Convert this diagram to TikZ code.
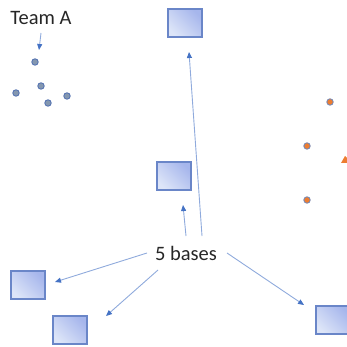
\documentclass[tikz,border=0pt]{standalone}
\usepackage{fontspec}
\setmainfont{Carlito}
\usetikzlibrary{arrows.meta}
\definecolor{baseedge}{HTML}{6A86C8}
\definecolor{baselight}{HTML}{DDE5F8}
\definecolor{basedark}{HTML}{A6B6EC}
\definecolor{linkline}{HTML}{8FAADC}
\definecolor{linktip}{HTML}{4472C4}
\definecolor{playerfill}{HTML}{8497B0}
\definecolor{playeredge}{HTML}{4F6FB0}
\definecolor{rivalfill}{HTML}{ED7D31}
\definecolor{rivaledge}{HTML}{6F87B8}
\tikzset{
  basebox/.style={draw=baseedge, line width=1.4pt, minimum width=34pt, minimum height=28pt,
    inner sep=0pt, left color=baselight, right color=basedark, shading angle=135},
  link/.style={draw=linkline, line width=0.9pt,
    -{Triangle[length=6pt,width=5pt,color=linktip]}},
  player/.style={circle, draw=playeredge, fill=playerfill, line width=0.8pt,
    minimum size=6.5pt, inner sep=0pt},
  rival/.style={circle, draw=rivaledge, fill=rivalfill, line width=0.8pt,
    minimum size=6.5pt, inner sep=0pt},
  label/.style={font=\fontsize{20.5}{24}\selectfont, inner sep=0pt, text=black!85}
}
\begin{document}
\begin{tikzpicture}[x=1pt, y=-1pt]
\useasboundingbox (0,0) rectangle (347,347);
\clip (0,0) rectangle (347,347);

% labels
\node[label] (team) at (41,18) {Team A};
\node[label] (bases) at (186,253) {5 bases};

% team A players
\node[player] (p1) at (35,62) {};
\node[player] (p2) at (16,93) {};
\node[player] (p3) at (41,86) {};
\node[player] (p4) at (48,103) {};
\node[player] (p5) at (67,96) {};

% opposing players
\node[rival] (r1) at (330,102) {};
\node[rival] (r2) at (307,146) {};
\node[rival] (r3) at (307,200) {};
\fill[rivalfill] (345,156) -- (341,163) -- (352,163) -- cycle;

% bases
\node[basebox] (b1) at (185,23) {};
\node[basebox] (b2) at (174,176) {};
\node[basebox] (b3) at (28,285) {};
\node[basebox] (b4) at (70,330) {};
\node[basebox] (b5) at (333,320) {};

% connector ends
\coordinate (tA) at (41,33);
\coordinate (tAend) at (39,50);
\coordinate (s1) at (202,236);
\coordinate (e1) at (189,52);
\coordinate (s2) at (186,236);
\coordinate (e2) at (183,205);
\coordinate (s3) at (147,253);
\coordinate (e3) at (55,282);
\coordinate (s4) at (158,270);
\coordinate (e4) at (106,316);
\coordinate (s5) at (227,253);
\coordinate (e5) at (304,305);

\draw[link] (tA) -- (tAend);
\draw[link] (s1) -- (e1);
\draw[link] (s2) -- (e2);
\draw[link] (s3) -- (e3);
\draw[link] (s4) -- (e4);
\draw[link] (s5) -- (e5);
\end{tikzpicture}
\end{document}
